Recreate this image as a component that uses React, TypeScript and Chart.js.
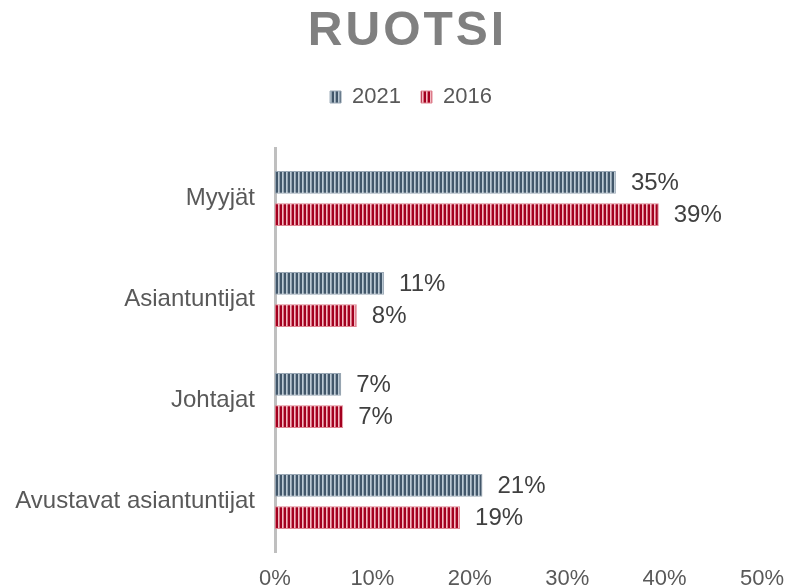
import React, { useEffect, useRef } from "react";
import { Chart, registerables } from "chart.js";

Chart.register(...registerables);

const categories = ["Myyjät", "Asiantuntijat", "Johtajat", "Avustavat asiantuntijat"];
const values2021 = [35.0, 11.2, 6.8, 21.3];
const values2016 = [39.4, 8.4, 7.0, 19.0];
const seriesLabels = ["2021", "2016"];
const xTicks = [0, 10, 20, 30, 40, 50];
const titleText = "RUOTSI";

const FONT = "'Liberation Sans', Arial, sans-serif";

function makeStripePattern(dark: string, mid: string, light: string): CanvasPattern | string {
  const c = document.createElement("canvas");
  c.width = 4;
  c.height = 4;
  const g = c.getContext("2d");
  if (!g) return dark;
  g.fillStyle = dark;
  g.fillRect(0, 0, 2, 4);
  g.fillStyle = light;
  g.fillRect(2, 0, 1, 4);
  g.fillStyle = mid;
  g.fillRect(3, 0, 1, 4);
  const p = g.createPattern(c, "repeat");
  return p || dark;
}

const titlePlugin = {
  id: "spacedTitle",
  afterLayout(chart: any) {
    if (chart.legend) {
      chart.legend.left = 60;
    }
  },
  afterDraw(chart: any) {
    const ctx = chart.ctx;
    ctx.save();
    ctx.font = `bold 48px ${FONT}`;
    ctx.fillStyle = "#808080";
    ctx.textBaseline = "alphabetic";
    ctx.textAlign = "left";
    try {
      (ctx as any).letterSpacing = "3px";
    } catch (e) {}
    const w = ctx.measureText(titleText).width - 3;
    ctx.fillText(titleText, 406 - w / 2, 45);
    ctx.restore();
  },
};

const dataLabelPlugin = {
  id: "barValueLabels",
  afterDatasetsDraw(chart: any) {
    const ctx = chart.ctx;
    ctx.save();
    ctx.font = `24px ${FONT}`;
    ctx.fillStyle = "#404040";
    ctx.textAlign = "left";
    ctx.textBaseline = "middle";
    chart.data.datasets.forEach((ds: any, di: number) => {
      const meta = chart.getDatasetMeta(di);
      meta.data.forEach((bar: any, i: number) => {
        const v = ds.data[i] as number;
        ctx.fillText(`${Math.round(v)}%`, bar.x + 15, bar.y + 1);
      });
    });
    ctx.restore();
  },
};

export default function App() {
  const ref = useRef<HTMLCanvasElement | null>(null);

  useEffect(() => {
    if (!ref.current) return;
    const fill2021 = makeStripePattern("#42576a", "#93a3b1", "#bccad4");
    const fill2016 = makeStripePattern("#a3001f", "#d97080", "#f2bcc4");

    const chart = new Chart(ref.current, {
      type: "bar",
      data: {
        labels: categories,
        datasets: [
          {
            label: seriesLabels[0],
            data: values2021,
            backgroundColor: fill2021 as any,
            borderColor: "#9aa8b5",
            borderWidth: 1,
            categoryPercentage: 0.64,
            barPercentage: 0.7,
          },
          {
            label: seriesLabels[1],
            data: values2016,
            backgroundColor: fill2016 as any,
            borderColor: "#e08592",
            borderWidth: 1,
            categoryPercentage: 0.64,
            barPercentage: 0.7,
          },
        ],
      },
      options: {
        animation: false,
        responsive: false,
        indexAxis: "y",
        layout: { padding: { top: 66, right: 28, bottom: 0, left: 0 } },
        plugins: {
          title: { display: false },
          subtitle: {
            display: true,
            text: "",
            weight: 500,
            font: { size: 10, lineHeight: 1 },
            padding: { top: 0, bottom: 20 },
          } as any,
          legend: {
            display: true,
            position: "top",
            labels: {
              boxWidth: 11,
              boxHeight: 12,
              padding: 20,
              color: "#595959",
              font: { size: 22, family: FONT },
            },
          },
          tooltip: { enabled: false },
        },
        scales: {
          x: {
            type: "linear",
            min: 0,
            max: 50,
            afterBuildTicks: (scale: any) => {
              scale.ticks = xTicks.map((v) => ({ value: v }));
            },
            afterFit: (scale: any) => {
              scale.height = 36;
              scale.paddingRight = 20;
              scale.paddingLeft = 0;
            },
            grid: { display: false, drawTicks: false },
            border: { display: false },
            ticks: {
              padding: 16,
              color: "#595959",
              font: { size: 22, family: FONT, lineHeight: 1 },
              callback: (v: any) => `${v}%`,
            },
          },
          y: {
            type: "category",
            z: 1,
            afterFit: (scale: any) => {
              scale.width = 275;
            },
            grid: { display: false, drawTicks: false },
            border: { display: true, color: "#bfbfbf", width: 3 },
            ticks: {
              padding: 20,
              color: "#595959",
              font: { size: 24, family: FONT },
            },
          },
        },
      },
      plugins: [titlePlugin, dataLabelPlugin],
    });
    return () => chart.destroy();
  }, []);

  return (
    <div style={{ position: "absolute", left: 0, top: 0, width: 790, height: 588, background: "#ffffff" }}>
      <canvas ref={ref} width={790} height={588} style={{ display: "block", width: 790, height: 588 }} />
    </div>
  );
}
